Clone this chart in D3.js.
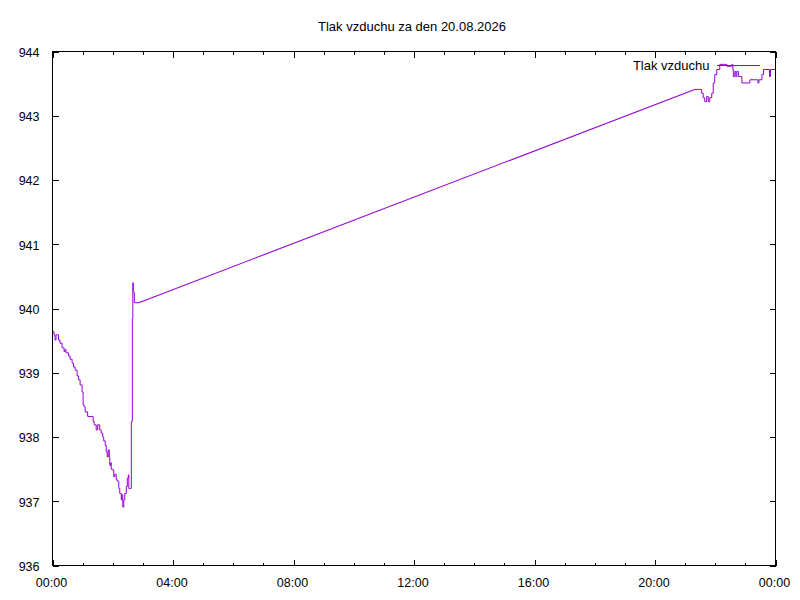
<!DOCTYPE html>
<html>
<head>
<meta charset="utf-8">
<script src="https://cdn.jsdelivr.net/npm/d3@7"></script>
<style>
  html, body { margin: 0; padding: 0; background: #fff; }
  svg { display: block; font-family: "Liberation Sans", Arial, sans-serif; }
</style>
</head>
<body>
<svg id="chart" width="800" height="600"></svg>
<script>
const title = "Tlak vzduchu za den 20.08.2026";
const seriesName = "Tlak vzduchu";

const times = ["00:00","00:03","00:05","00:07","00:10","00:12","00:15","00:19","00:22","00:23",
  "00:25","00:27","00:32","00:35","00:39","00:42","00:45","00:49","00:52","00:55",
  "00:59","01:01","01:03","01:05","01:10","01:19","01:21","01:23","01:27","01:30",
  "01:34","01:37","01:40","01:42","01:45","01:47","01:49","01:51","01:53","01:54",
  "01:56","01:57","01:59","02:02","02:04","02:07","02:10","02:12","02:14","02:17",
  "02:18","02:20","02:22","02:24","02:27","02:29","02:31","02:32","02:36","02:37",
  "02:39","02:40","02:41","02:42","02:43","02:52",
  "21:19","21:29","21:33","21:36","21:39","21:43","21:46","21:49","21:53","21:56",
  "21:59","22:03","22:09","22:19","22:23","22:32","22:33","22:35","22:36","22:39",
  "22:41","22:43","22:46","22:51","22:53","23:06","23:09","23:23","23:25","23:27",
  "23:33","23:36","23:47","23:48","23:50","23:59"];

const pressure = [939.64,939.59,939.51,939.59,939.59,939.51,939.46,939.39,939.39,939.33,
  939.36,939.31,939.26,939.21,939.15,939.09,939.04,938.95,938.89,938.81,
  938.70,938.50,938.47,938.39,938.32,938.32,938.24,938.19,938.11,938.19,
  938.11,938.06,938.00,937.94,937.87,937.77,937.69,937.80,937.69,937.56,
  937.60,937.50,937.49,937.38,937.42,937.33,937.31,937.20,937.12,937.02,
  937.10,936.91,937.02,937.12,937.23,937.36,937.41,937.20,937.20,938.24,
  939.84,940.40,940.26,940.25,940.09,940.09,
  943.41,943.41,943.35,943.28,943.22,943.30,943.22,943.28,943.35,943.51,
  943.64,943.72,943.80,943.80,943.77,943.77,943.80,943.72,943.61,943.69,
  943.61,943.69,943.61,943.61,943.51,943.51,943.56,943.56,943.51,943.56,
  943.64,943.72,943.72,943.61,943.72,943.72];

const yTicks = [936,937,938,939,940,941,942,943,944];
const xMajorHours = [0,4,8,12,16,20,24];
const xMinorHours = [1,2,3,5,6,7,9,10,11,13,14,15,17,18,19,21,22,23];

const toMin = s => { const [h, m] = s.split(":").map(Number); return h * 60 + m; };
const data = times.map((t, i) => ({ t: toMin(t), v: pressure[i] }));

const L = 52.5, R = 775.5, T = 51.5, B = 565.5;
const color = "#9400d3";

const svg = d3.select("#chart");
const x = d3.scaleLinear().domain([0, 1440]).range([L, R]);
const y = d3.scaleLinear().domain([936, 944]).range([B, T]);

const fmt = m => { const h = Math.round(m / 60) % 24; return (h < 10 ? "0" : "") + h + ":00"; };

// split into densely sampled runs (drawn as steps) and long gaps (drawn straight)
const runs = [[data[0]]];
const gaps = [];
for (let i = 1; i < data.length; i++) {
  if (data[i].t - data[i - 1].t > 60) { gaps.push([data[i - 1], data[i]]); runs.push([data[i]]); }
  else runs[runs.length - 1].push(data[i]);
}
const stepLine = d3.line().x(d => x(d.t)).y(d => y(d.v)).curve(d3.curveStepAfter);
const straight = d3.line().x(d => x(d.t)).y(d => y(d.v));

svg.selectAll("path.run").data(runs).join("path")
  .attr("class", "run")
  .attr("fill", "none").attr("stroke", color).attr("stroke-width", 1)
  .attr("d", stepLine);
svg.selectAll("path.gap").data(gaps).join("path")
  .attr("class", "gap")
  .attr("fill", "none").attr("stroke", color).attr("stroke-width", 1.1)
  .attr("d", straight);

function styleAxis(g) {
  g.select(".domain").remove();
  g.selectAll(".tick line").attr("stroke", "#000").attr("shape-rendering", "crispEdges");
  g.selectAll("text").attr("fill", "#000").style("font-size", "12.5px")
    .style("font-family", '"Liberation Sans", Arial, sans-serif');
}

svg.append("g").attr("transform", `translate(0,${B})`)
  .call(d3.axisBottom(x).tickValues(xMajorHours.map(h => h * 60)).tickFormat(fmt).tickSizeInner(-6).tickSizeOuter(0).tickPadding(13))
  .call(styleAxis)
  .call(g => g.selectAll("text").attr("dx", -1.5));
svg.append("g").attr("transform", `translate(0,${B})`)
  .call(d3.axisBottom(x).tickValues(xMinorHours.map(h => h * 60)).tickFormat("").tickSizeInner(-3).tickSizeOuter(0))
  .call(styleAxis);
svg.append("g").attr("transform", `translate(0,${T})`)
  .call(d3.axisTop(x).tickValues(xMajorHours.map(h => h * 60)).tickFormat("").tickSizeInner(-6).tickSizeOuter(0))
  .call(styleAxis);
svg.append("g").attr("transform", `translate(0,${T})`)
  .call(d3.axisTop(x).tickValues(xMinorHours.map(h => h * 60)).tickFormat("").tickSizeInner(-3).tickSizeOuter(0))
  .call(styleAxis);
svg.append("g").attr("transform", `translate(${L},0)`)
  .call(d3.axisLeft(y).tickValues(yTicks).tickFormat(d3.format("d")).tickSizeInner(-6).tickSizeOuter(0).tickPadding(13))
  .call(styleAxis)
  .call(g => g.selectAll("text").attr("dy", "0.38em"));
svg.append("g").attr("transform", `translate(${R},0)`)
  .call(d3.axisRight(y).tickValues(yTicks).tickFormat("").tickSizeInner(-6).tickSizeOuter(0))
  .call(styleAxis);

svg.append("rect")
  .attr("x", L).attr("y", T).attr("width", R - L).attr("height", B - T)
  .attr("fill", "none").attr("stroke", "#000").attr("stroke-width", 1)
  .attr("shape-rendering", "crispEdges");

svg.append("text")
  .attr("x", 412).attr("y", 30.5)
  .attr("text-anchor", "middle")
  .style("font-size", "13px")
  .attr("fill", "#000")
  .text(title);

svg.append("text")
  .attr("x", 709.5).attr("y", 70)
  .attr("text-anchor", "end")
  .style("font-size", "13px")
  .attr("fill", "#000")
  .text(seriesName);
svg.append("line")
  .attr("x1", 717).attr("x2", 760).attr("y1", 65.5).attr("y2", 65.5)
  .attr("stroke", color).attr("stroke-width", 1)
  .attr("shape-rendering", "crispEdges");
</script>
</body>
</html>
